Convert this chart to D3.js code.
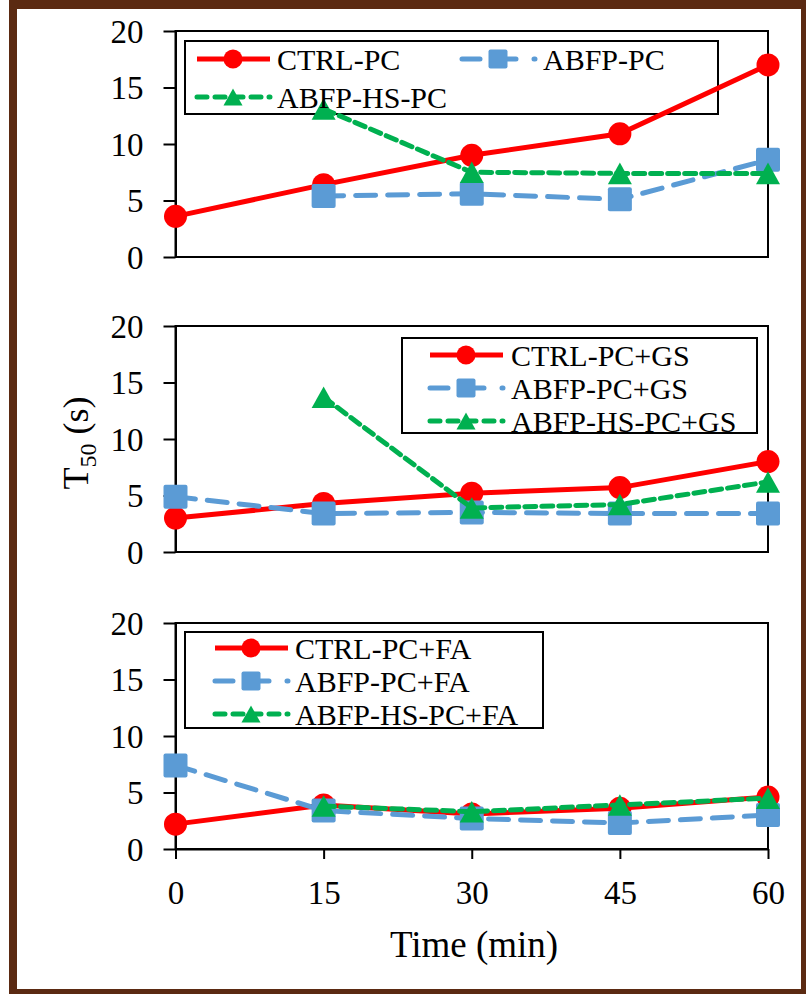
<!DOCTYPE html>
<html>
<head>
<meta charset="utf-8">
<script src="https://cdn.jsdelivr.net/npm/d3@7"></script>
<style>
  body { margin: 0; background: #fff; }
  svg text { font-family: "Liberation Serif", "Times New Roman", serif; fill: #000; }
</style>
</head>
<body>
<svg id="chart" width="806" height="994"></svg>
<script>
// time points and ticks
var times = [0, 15, 30, 45, 60];
var yTicks = [0, 5, 10, 15, 20];

// panel 1 : PC
var pcCtrl = [3.6, 6.4, 9.0, 10.9, 17.0];
var pcAbfp = [null, 5.4, 5.6, 5.1, 8.6];
var pcHs   = [null, 13.1, 7.5, 7.4, 7.4];
// panel 2 : PC+GS
var gsCtrl = [3.0, 4.3, 5.2, 5.7, 8.0];
var gsAbfp = [4.9, 3.4, 3.5, 3.4, 3.4];
var gsHs   = [null, 13.7, 3.9, 4.2, 6.2];
// panel 3 : PC+FA
var faCtrl = [2.2, 3.9, 3.1, 3.6, 4.6];
var faAbfp = [7.4, 3.4, 2.7, 2.3, 3.0];
var faHs   = [null, 3.8, 3.3, 3.9, 4.5];

var pcNames = ["CTRL-PC", "ABFP-PC", "ABFP-HS-PC"];
var gsNames = ["CTRL-PC+GS", "ABFP-PC+GS", "ABFP-HS-PC+GS"];
var faNames = ["CTRL-PC+FA", "ABFP-PC+FA", "ABFP-HS-PC+FA"];

var styles = [
    {color: "#ff0000", dash: null, shape: "circle"},
    {color: "#5b9bd5", dash: "20,12", shape: "square"},
    {color: "#00b050", dash: "11,6", shape: "triangle"}
];

var svg = d3.select("#chart");
var x = d3.scaleLinear().domain([0, 60]).range([175.5, 768]);

// panels: top / bottom pixel of y range, legend layout
var panels = [
    {series: [pcCtrl, pcAbfp, pcHs], names: pcNames, top: 31, bottom: 257,
     legend: {x: 185, y: 41, w: 533, h: 73,
              items: [{lx: 197, tx: 277, y: 59}, {lx: 462, tx: 543, y: 59}, {lx: 197, tx: 277, y: 97}]}},
    {series: [gsCtrl, gsAbfp, gsHs], names: gsNames, top: 326, bottom: 552,
     legend: {x: 402, y: 338, w: 355, h: 95,
              items: [{lx: 430, tx: 511, y: 355}, {lx: 430, tx: 511, y: 388}, {lx: 430, tx: 511, y: 421}]}},
    {series: [faCtrl, faAbfp, faHs], names: faNames, top: 623, bottom: 849, xaxis: true,
     legend: {x: 185, y: 632, w: 358, h: 96,
              items: [{lx: 215, tx: 295, y: 648}, {lx: 215, tx: 295, y: 681}, {lx: 215, tx: 295, y: 714}]}}
];

function marker(g, shape, cx, cy, s, color) {
    if (shape == "circle") {
        g.append("circle").attr("cx", cx).attr("cy", cy).attr("r", s/2).attr("fill", color);
    }
    if (shape == "square") {
        g.append("rect").attr("x", cx - s/2).attr("y", cy - s/2).attr("width", s).attr("height", s)
            .attr("rx", 2).attr("fill", color);
    }
    if (shape == "triangle") {
        var h = s * 0.9;
        g.append("path").attr("d", "M" + cx + "," + (cy - h/2) + "L" + (cx + s/2) + "," + (cy + h/2) +
                              "L" + (cx - s/2) + "," + (cy + h/2) + "Z").attr("fill", color);
    }
}

panels.forEach(function(p) {
    var y = d3.scaleLinear().domain([0, 20]).range([p.bottom, p.top]);
    var g = svg.append("g");

    // frame
    g.append("rect").attr("x", x(0)).attr("y", y(20)).attr("width", x(60) - x(0)).attr("height", y(0) - y(20))
        .attr("fill", "none").attr("stroke", "#000").attr("stroke-width", 2);

    var ay = g.append("g").attr("transform", "translate(" + x(0) + ",0)")
        .call(d3.axisLeft(y).tickValues(yTicks).tickSize(12).tickSizeOuter(0).tickPadding(20));
    ay.select(".domain").attr("stroke-width", 2);
    ay.selectAll(".tick line").attr("stroke-width", 2);
    ay.selectAll(".tick text").attr("font-size", 33).attr("dy", "0.34em");

    if (p.xaxis) {
        var ax = g.append("g").attr("transform", "translate(0," + y(0) + ")")
            .call(d3.axisBottom(x).tickValues(times).tickSize(10).tickSizeOuter(0).tickPadding(22));
        ax.select(".domain").attr("stroke-width", 2);
        ax.selectAll(".tick line").attr("stroke-width", 2);
        ax.selectAll(".tick text").attr("font-size", 33);
    }

    // legend
    var L = p.legend;
    g.append("rect").attr("x", L.x).attr("y", L.y).attr("width", L.w).attr("height", L.h)
        .attr("fill", "#fff").attr("stroke", "#000").attr("stroke-width", 2);

    p.series.forEach(function(vals, i) {
        var st = styles[i];
        var pts = times.map(function(t, k) { return [t, vals[k]]; })
            .filter(function(d) { return d[1] != null; });
        var line = d3.line().x(function(d) { return x(d[0]); }).y(function(d) { return y(d[1]); });
        g.append("path").attr("d", line(pts)).attr("fill", "none").attr("stroke", st.color)
            .attr("stroke-width", 5).attr("stroke-dasharray", st.dash)
            .attr("stroke-linecap", st.dash ? "round" : "butt");
        pts.forEach(function(d) {
            marker(g, st.shape, x(d[0]), y(d[1]), st.shape == "circle" ? 23 : 24, st.color);
        });

        var it = L.items[i];
        g.append("line").attr("x1", it.lx).attr("x2", it.lx + 73).attr("y1", it.y).attr("y2", it.y)
            .attr("stroke", st.color).attr("stroke-width", 5).attr("stroke-dasharray", st.dash ? (i == 1 ? "18,18" : "10,8") : null)
            .attr("stroke-linecap", st.dash ? "round" : "butt");
        marker(g, st.shape, it.lx + 36, it.y, 19, st.color);
        g.append("text").attr("x", it.tx).attr("y", it.y).attr("dy", "0.35em")
            .attr("font-size", 30).text(p.names[i]);
    });
});

// axis titles
svg.append("text").attr("x", 474).attr("y", 957).attr("text-anchor", "middle")
    .attr("font-size", 37).text("Time (min)");
var yl = svg.append("text").attr("transform", "translate(88,443) rotate(-90)")
    .attr("text-anchor", "middle").attr("font-size", 36);
yl.append("tspan").text("T");
yl.append("tspan").attr("font-size", 24).attr("dy", 8).text("50");
yl.append("tspan").attr("dy", -8).text(" (s)");

// brown border
var brown = "#5b2a12";
svg.append("rect").attr("x", 9).attr("y", 0).attr("width", 797).attr("height", 9).attr("fill", brown);
svg.append("rect").attr("x", 9).attr("y", 0).attr("width", 8).attr("height", 994).attr("fill", brown);
svg.append("rect").attr("x", 801).attr("y", 0).attr("width", 5).attr("height", 994).attr("fill", brown);
svg.append("rect").attr("x", 9).attr("y", 989).attr("width", 797).attr("height", 5).attr("fill", brown);
</script>
</body>
</html>
